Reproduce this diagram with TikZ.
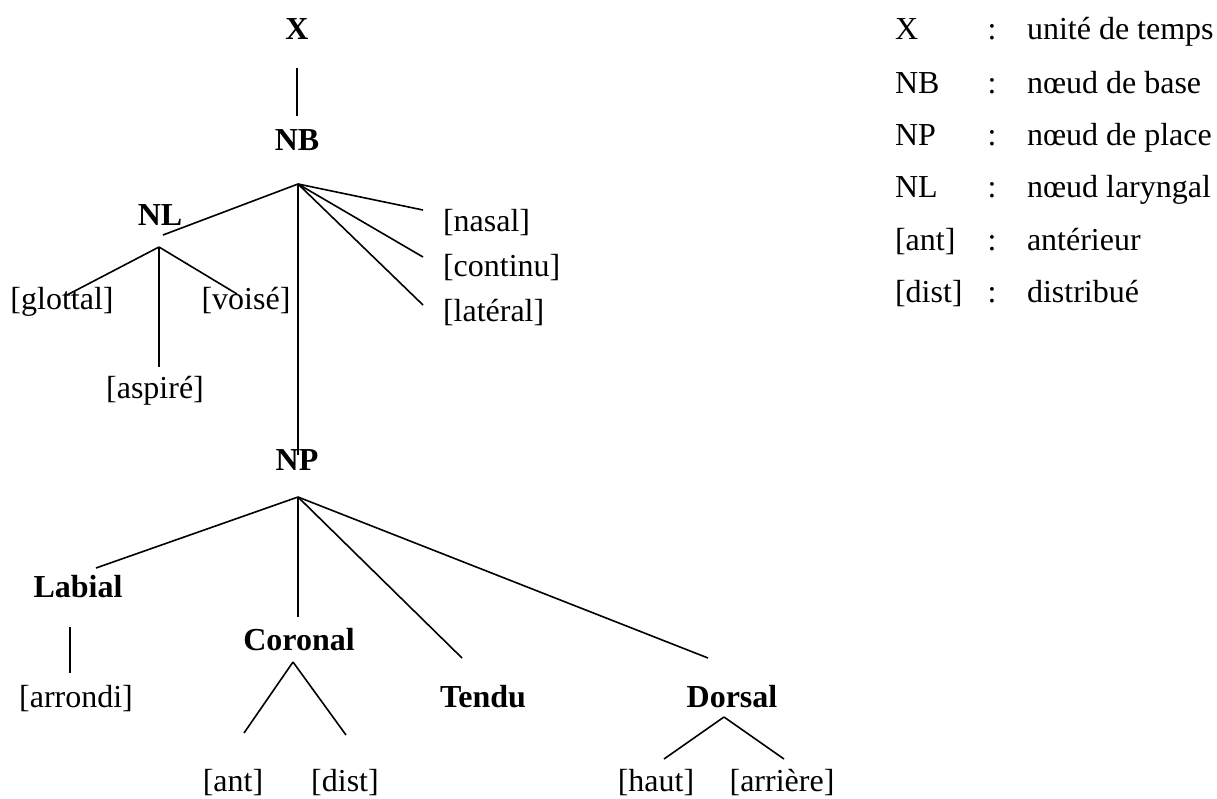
\documentclass[tikz,border=0pt]{standalone}
\usepackage{fontspec}
\setmainfont{Liberation Serif}
\begin{document}
\begin{tikzpicture}[x=1pt,y=-1pt,
  every node/.style={inner sep=0pt,outer sep=0pt},
  feat/.style={font=\fontsize{32}{38}\selectfont,anchor=base},
  cat/.style={font=\fontsize{32}{38}\selectfont\bfseries,anchor=base},
  leg/.style={font=\fontsize{32}{38}\selectfont,anchor=base west},
  branch/.style={line width=1.6pt}]
\useasboundingbox (0,0) rectangle (1217,798);

% ---- tree nodes
\node[cat] (X) at (297,39) {X};
\node[cat] (NB) at (297,150) {NB};
\node[cat] (NL) at (160,225) {NL};
\node[feat] (glottal) at (62,309) {[glottal]};
\node[feat] (voise) at (246,309) {[voisé]};
\node[feat] (aspire) at (155,398) {[aspiré]};
\node[feat,anchor=base west] (nasal) at (443,231) {[nasal]};
\node[feat,anchor=base west] (continu) at (443,276) {[continu]};
\node[feat,anchor=base west] (lateral) at (443,321) {[latéral]};
\node[cat] (NP) at (297,470) {NP};
\node[cat] (labial) at (78,597) {Labial};
\node[feat] (arrondi) at (76,707) {[arrondi]};
\node[cat] (coronal) at (299,650) {Coronal};
\node[feat] (ant) at (233,791) {[ant]};
\node[feat] (dist) at (345,791) {[dist]};
\node[cat] (tendu) at (483,707) {Tendu};
\node[cat] (dorsal) at (732,707) {Dorsal};
\node[feat] (haut) at (656,791) {[haut]};
\node[feat] (arriere) at (782,791) {[arrière]};

% ---- branch points and branch ends
\coordinate (xfoot) at (297,68);
\coordinate (nbhead) at (297,116);
\coordinate (nbfan) at (298,184);
\coordinate (nlend) at (163,235);
\coordinate (nlfan) at (159,247);
\coordinate (glottalend) at (67,295);
\coordinate (aspireend) at (159,367);
\coordinate (voiseend) at (237,294);
\coordinate (nasalend) at (423,210);
\coordinate (continuend) at (423,257);
\coordinate (lateralend) at (423,305);
\coordinate (nphead) at (298,455);
\coordinate (npfan) at (298,497);
\coordinate (labialend) at (96,568);
\coordinate (coronalend) at (298,617);
\coordinate (tenduend) at (462,658);
\coordinate (dorsalend) at (708,658);
\coordinate (labialfoot) at (70,627);
\coordinate (arrondiend) at (70,673);
\coordinate (coronalfan) at (293,662);
\coordinate (antend) at (244,733);
\coordinate (distend) at (346,735);
\coordinate (dorsalfan) at (724,717);
\coordinate (hautend) at (664,759);
\coordinate (arriereend) at (784,759);

% ---- branches
\draw[branch] (xfoot) -- (nbhead);
\draw[branch] (nbfan) -- (nlend);
\draw[branch] (nbfan) -- (nasalend);
\draw[branch] (nbfan) -- (continuend);
\draw[branch] (nbfan) -- (lateralend);
\draw[branch] (nbfan) -- (nphead);
\draw[branch] (nlfan) -- (glottalend);
\draw[branch] (nlfan) -- (aspireend);
\draw[branch] (nlfan) -- (voiseend);
\draw[branch] (npfan) -- (labialend);
\draw[branch] (npfan) -- (coronalend);
\draw[branch] (npfan) -- (tenduend);
\draw[branch] (npfan) -- (dorsalend);
\draw[branch] (labialfoot) -- (arrondiend);
\draw[branch] (coronalfan) -- (antend);
\draw[branch] (coronalfan) -- (distend);
\draw[branch] (dorsalfan) -- (hautend);
\draw[branch] (dorsalfan) -- (arriereend);

% ---- legend
\node[leg] (kX) at (895,39) {X};
\node[leg] (kNB) at (895,93) {NB};
\node[leg] (kNP) at (895,145) {NP};
\node[leg] (kNL) at (895,197) {NL};
\node[leg] (kant) at (895,250) {[ant]};
\node[leg] (kdist) at (895,302) {[dist]};
\foreach \y/\n in {39/1,93/2,145/3,197/4,250/5,302/6}
  \node[feat] (colon\n) at (992,\y) {:};
\node[leg] (vX) at (1027,39) {unité de temps};
\node[leg] (vNB) at (1027,93) {nœud de base};
\node[leg] (vNP) at (1027,145) {nœud de place};
\node[leg] (vNL) at (1027,197) {nœud laryngal};
\node[leg] (vant) at (1027,250) {antérieur};
\node[leg] (vdist) at (1027,302) {distribué};
\end{tikzpicture}
\end{document}
